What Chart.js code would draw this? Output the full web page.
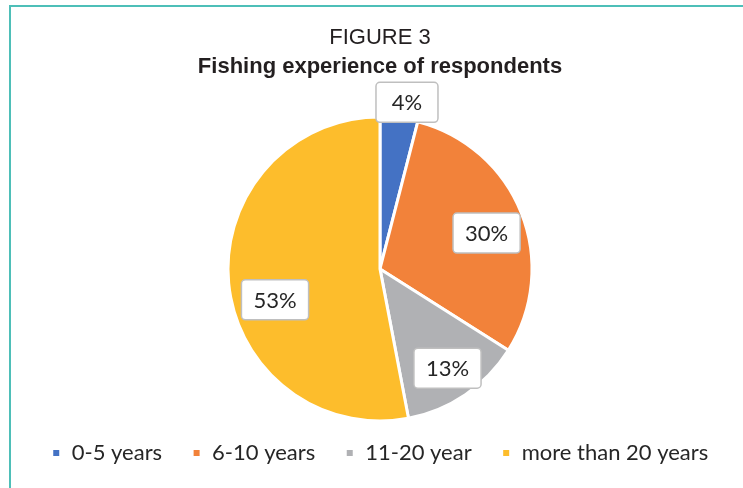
<!DOCTYPE html>
<html>
<head>
<meta charset="utf-8">
<script src="https://cdn.jsdelivr.net/npm/chart.js@4.4.1/dist/chart.umd.min.js"></script>
<style>
    html, body { margin: 0; padding: 0; background: #ffffff; }
    #wrap { position: relative; width: 743px; height: 488px; overflow: hidden; }
    #frame { position: absolute; left: 9px; top: 5px; right: -4px; bottom: -4px;
             border-left: 2px solid #4ebfb8; border-top: 2px solid #4ebfb8; }
    canvas { position: absolute; left: 0; top: 0; }
</style>
</head>
<body>
<div id="wrap">
    <div id="frame"></div>
    <canvas id="chart" width="743" height="488"></canvas>
</div>
<script>
const categories = ['0-5 years', '6-10 years', '11-20 year', 'more than 20 years'];
const shares = [4, 30, 13, 53];
const sliceColors = ['#4472c4', '#f2823a', '#b0b1b4', '#fdbd2c'];
const titleText = 'FIGURE 3';
const subtitleText = 'Fishing experience of respondents';

// where each percentage box sits: fraction of the radius, and a turn in degrees
const labelRadius = [1.11, 0.74, 0.79, 0.72];
const labelTurn = [2, 3, 0, -11];

const labelFont = '22px Lato, "Open Sans", sans-serif';

const percentBoxes = {
    id: 'percentBoxes',
    afterDatasetsDraw(chart) {
        let ctx = chart.ctx;
        let meta = chart.getDatasetMeta(0);
        ctx.save();
        ctx.font = labelFont;
        ctx.textAlign = 'center';
        ctx.textBaseline = 'middle';
        meta.data.forEach((arc, i) => {
            let p = arc.getProps(['x', 'y', 'startAngle', 'endAngle', 'outerRadius']);
            let mid = (p.startAngle + p.endAngle) / 2 + labelTurn[i] * Math.PI / 180;
            let r = p.outerRadius * labelRadius[i];
            let cx = p.x + Math.cos(mid) * r;
            let cy = p.y + Math.sin(mid) * r;
            let text = shares[i] + '%';
            let w = Math.max(ctx.measureText(text).width + 24, 62);
            let h = 40;
            ctx.beginPath();
            ctx.roundRect(cx - w / 2, cy - h / 2, w, h, 4);
            ctx.fillStyle = '#ffffff';
            ctx.fill();
            ctx.lineWidth = 1.5;
            ctx.strokeStyle = '#bfbfbf';
            ctx.stroke();
            ctx.fillStyle = '#262626';
            ctx.fillText(text, cx, cy + 1);
        });
        ctx.restore();
    }
};

new Chart(document.getElementById('chart').getContext('2d'), {
    type: 'pie',
    data: {
        labels: categories,
        datasets: [{
            data: shares,
            backgroundColor: sliceColors,
            borderColor: '#ffffff',
            borderWidth: 3,
            radius: 152,
            clip: false
        }]
    },
    options: {
        responsive: false,
        animation: false,
        layout: { padding: { left: 17, right: 0, top: 0, bottom: 14 } },
        plugins: {
            title: {
                display: true,
                text: titleText,
                color: '#231f20',
                font: { family: '"Liberation Sans", Arial, sans-serif', size: 22, weight: 'normal' },
                padding: { top: 25, bottom: 0 }
            },
            subtitle: {
                display: true,
                text: subtitleText,
                color: '#231f20',
                font: { family: '"Liberation Sans", Arial, sans-serif', size: 22, weight: 'bold' },
                padding: { top: 2, bottom: 46 }
            },
            legend: {
                position: 'bottom',
                labels: {
                    boxWidth: 9,
                    boxHeight: 9,
                    padding: 30,
                    color: '#262626',
                    font: { family: 'Lato, "Open Sans", sans-serif', size: 22 }
                }
            },
            tooltip: { enabled: false }
        }
    },
    plugins: [percentBoxes]
});
</script>
</body>
</html>
